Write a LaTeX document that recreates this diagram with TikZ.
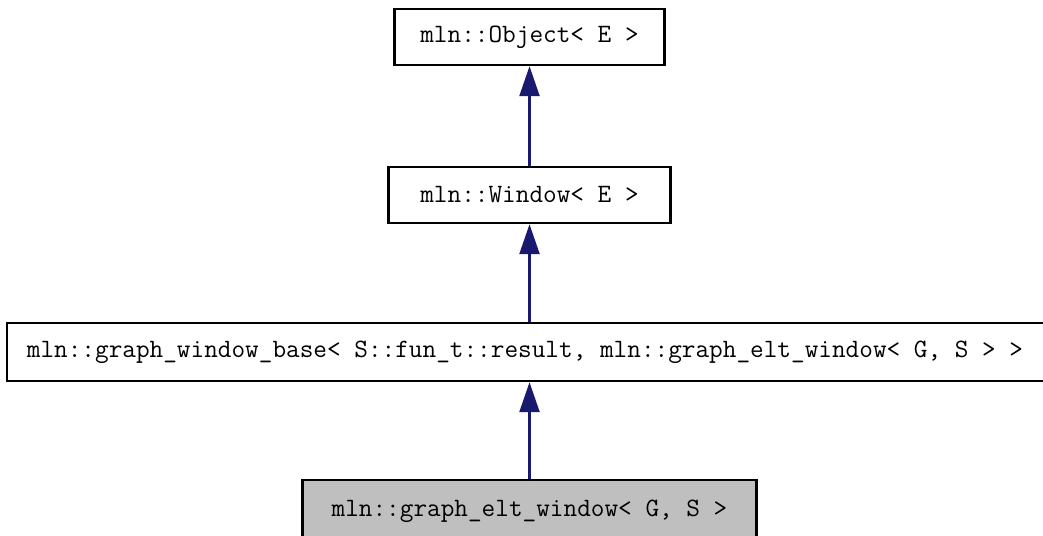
\documentclass[tikz,border=0pt]{standalone}
\usetikzlibrary{arrows.meta}
\definecolor{edgeblue}{RGB}{25,25,112}
\definecolor{boxgray}{RGB}{191,191,191}
\begin{document}
\begin{tikzpicture}[x=1pt,y=-1pt,
  cls/.style={draw=black,line width=2.4pt,fill=white,minimum height=56pt,inner sep=0pt,
    font=\ttfamily\fontsize{26.5}{28}\selectfont},
  inh/.style={draw=edgeblue,line width=2.4pt,-{Triangle[length=30pt,width=20pt]}}]
\useasboundingbox[fill=white] (0,0) rectangle (1043,535);
\node[cls,minimum width=270pt] (b1) at (529.5,37) {mln::Object< E >};
\node[cls,minimum width=282pt] (b2) at (529.5,195) {mln::Window< E >};
\node[cls,minimum width=1038pt,minimum height=58pt] (b3) at (526,352) {\hspace*{-2pt}mln::graph\_window\_base< S::fun\_t::result, mln::graph\_elt\_window< G, S > >};
\node[cls,fill=boxgray,minimum width=454pt,minimum height=62pt] (b4) at (529.5,511) {\raisebox{3pt}{mln::graph\_elt\_window< G, S >}};
\draw[inh] (b2.north) -- (b1.south);
\draw[inh] (b2.north |- b3.north) -- (b2.south);
\draw[inh] (b4.north) -- (b4.north |- b3.south);
\end{tikzpicture}
\end{document}
